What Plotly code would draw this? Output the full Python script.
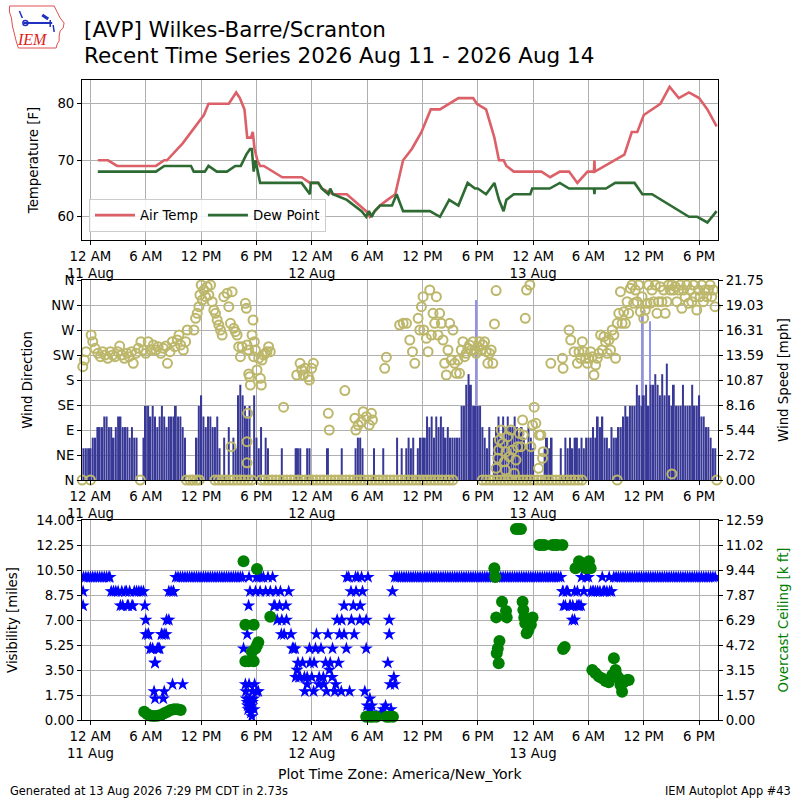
import pandas as pd
import plotly.graph_objects as go

BASE = pd.Timestamp("2026-08-11 00:00")

# ---------------- Temperature panel ----------------
air_hours = [0.8, 1.9, 2.9, 7.1, 8.0, 8.3, 10.0, 10.9, 12.3, 12.8, 15.0, 15.8, 16.2, 16.7, 17.0,
             17.4, 17.6, 17.8, 18.1, 18.4, 18.8, 20.8, 22.9, 23.8, 24.7, 25.1, 26.3, 27.8, 28.5,
             29.9, 30.3, 30.8, 31.4, 32.2, 33.05, 33.9, 34.85, 35.9, 36.9, 37.9, 39.9, 41.5,
             41.9, 42.9, 43.8, 44.3, 44.8, 45.1, 45.9, 48.9, 49.85, 50.9, 51.9, 52.8, 53.9, 54.6,
             54.65, 54.7, 57.9, 58.7, 59.3, 60.0, 61.8, 62.8, 63.8, 64.9, 66.0, 66.9, 67.9]
air_temp = [70, 70, 69, 69, 70, 70, 73, 75, 78, 80, 80, 82, 81, 79, 74,
            74, 75, 72, 70, 69, 69, 67, 67, 66, 66, 65, 64, 64, 63,
            61, 60, 61, 62, 63, 64, 70, 72, 75, 79, 79, 81, 81,
            80, 79, 74, 70, 70, 69, 68, 68, 67, 68, 68, 66, 68, 68,
            70, 68, 71, 75, 75, 78, 80, 83, 81, 82, 81, 79, 76]

dew_hours = [0.8, 7.1, 8.0, 10.9, 11.2, 12.4, 12.8, 13.7, 14.8, 15.7, 16.3, 16.9, 17.3, 17.5,
             17.7, 17.9, 18.4, 22.9, 23.8, 23.9, 24.7, 25.1, 25.8, 26.0, 26.3, 27.8, 29.4, 29.9,
             30.2, 30.5, 30.8, 31.4, 32.7, 33.2, 33.9, 36.8, 37.9, 38.9, 39.9, 40.9, 41.7, 42.0,
             42.9, 43.8, 44.3, 44.8, 45.1, 45.9, 47.7, 47.9, 49.8, 50.9, 51.9, 54.6, 54.65, 54.7,
             55.9, 56.9, 59.0, 59.85, 60.9, 64.9, 65.8, 66.9, 67.9]
dew_temp = [68, 68, 69, 69, 68, 68, 69, 68, 68, 69, 69, 71, 72, 72,
            68, 70, 66, 66, 64, 66, 66, 65, 64, 65, 64, 63, 61, 60,
            61, 60, 61, 62, 62, 64, 61, 61, 60, 63, 62, 66, 65, 65,
            64, 66, 63, 61, 63, 64, 64, 65, 65, 66, 65, 65, 64, 65,
            65, 66, 66, 64, 64, 60, 60, 59, 61]

# ---------------- Wind panel ----------------
# wind speed [knots], 15-minute steps starting 2026-08-10 23:00
wind_start_hour = -1.0
wind_kt = [
    3, 3, 3, 3,  3, 4, 4, 5,  5, 5, 6, 6,  5, 5, 4, 5,  6, 6, 5, 5,  5, 4, 5, 4,
    4, 0, 0, 4,  7, 7, 6, 7,  6, 5, 6, 7,  6, 5, 6, 6,  6, 7, 6, 6,  5, 4, 0, 0,
    0, 0, 4, 7,  8, 6, 5, 6,  6, 5, 5, 6,  3, 0, 4, 0,  5, 0, 4, 3,  8, 9, 8, 7,
    6, 7, 0, 8,  4, 3, 5, 0,  4, 3, 0, 0,  0, 0, 0, 3,  0, 0, 0, 0,  0, 3, 3, 3,
    0, 0, 3, 3,  0, 0, 0, 0,  0, 0, 0, 3,  0, 0, 0, 0,  0, 3, 0, 0,  0, 0, 0, 3,
    4, 4, 3, 0,  0, 0, 0, 3,  0, 0, 0, 3,  0, 0, 0, 0,  0, 4, 0, 3,  0, 3, 4, 3,
    4, 0, 3, 4,  4, 4, 6, 5,  6, 4, 6, 5,  6, 5, 4, 5,  4, 4, 4, 4,  4, 7, 7, 9,
    10, 9, 7, 7,  7, 7, 5, 4,  3, 5, 0, 4,  5, 6, 4, 6,  5, 6, 5, 5,  6, 5, 4, 5,
    4, 3, 5, 4,  3, 0, 0, 0,  0, 3, 4, 3,  4, 0, 0, 0,  3, 0, 4, 3,  4, 3, 4, 4,
    3, 4, 3, 4,  4, 4, 5, 4,  6, 5, 6, 4,  4, 3, 5, 4,  4, 5, 5, 6,  7, 6, 7, 7,
    7, 9, 8, 7,  8, 9, 7, 9,  9, 10, 9, 8,  10, 8, 11, 8,  7, 9, 7, 7,  7, 9, 7, 7,
    7, 9, 7, 7,  8, 6, 6, 5,  5, 4, 3, 3,
]
gust_hours = [41.83, 59.8, 60.7]
gust_kt = [17, 16, 15]

dir_hours = [
    -0.83, -0.65, -0.47, 0.0, 0.07, 0.25, 0.5, 0.8, 1.08, 1.33, 1.58, 1.87, 2.16, 2.41, 2.66,
    2.95, 3.17, 3.38, 3.67, 3.96, 4.2, 4.46, 4.64, 4.93, 5.18, 5.4, 5.47, 5.76, 6.0, 6.26,
    6.55, 6.83, 7.09, 7.34, 7.63, 7.91, 8.17, 8.35, 8.63, 8.88, 9.14, 9.42, 9.6, 9.78,
    10.07, 10.32, 10.5, 11.22, 11.4, 11.58, 11.76, 11.87, 12.01, 12.12, 12.3, 12.48, 12.66,
    12.84, 13.02, 13.2, 13.38, 13.56, 13.74, 13.92, 14.1, 14.28, 14.46, 14.82, 15.0, 15.18,
    15.25, 15.36, 15.54, 15.72, 15.9, 16.08, 16.26, 16.44, 16.8, 16.9, 16.98, 16.98, 16.98,
    17.05, 17.16, 17.16, 17.27, 17.34, 17.52, 17.63, 17.7, 17.77, 17.88, 18.06, 18.24,
    18.42, 18.53, 18.6, 18.78, 18.96, 19.14, 19.32, 19.5,
    20.94, 22.37, 22.73, 22.91, 23.09, 23.27, 23.63, 23.74, 23.99, 24.17, 25.79, 25.9,
    27.59, 28.67, 28.78, 29.03, 29.39, 29.57, 29.93, 30.22, 30.47, 30.58, 31.91, 32.09,
    33.53, 33.91, 34.27, 34.63, 34.92, 35.17, 35.53, 35.71, 35.89, 36.07, 36.14, 36.43,
    36.61, 36.79, 36.97, 37.15, 37.33, 37.51, 37.69, 37.87, 38.05, 38.23, 38.41, 38.59,
    38.77, 38.95, 39.13, 39.31, 39.49, 39.67, 39.85, 40.03, 40.21, 40.39, 40.57, 40.75,
    40.93, 41.11, 41.29, 41.47, 41.65, 41.83, 42.01, 42.19, 42.37, 42.55, 42.73, 42.91,
    43.09, 43.27, 43.45, 43.63, 43.81, 43.99,
    43.99, 44.17, 44.27, 44.35, 44.53, 44.71, 44.88, 44.99, 45.06, 45.24, 45.42, 45.6,
    45.78, 45.96, 46.14, 46.32, 46.5, 46.68, 46.86, 46.94, 47.15, 47.29, 47.65, 47.76,
    47.94, 48.12, 48.3, 48.59, 48.66, 48.84, 49.02, 49.09,
    49.92, 51.18, 51.25, 51.9, 52.08, 52.44, 52.8, 52.98, 53.16, 53.34, 53.52, 53.7, 53.88,
    54.06, 54.24, 54.42, 54.6, 54.78, 54.96, 55.14, 55.32, 55.5, 55.68, 55.86, 56.04, 56.22,
    56.4, 56.58, 56.76, 56.94, 57.12, 57.29, 57.47, 57.65, 57.83, 58.01, 58.19, 58.37,
    58.55, 58.73, 58.91, 59.09, 59.27, 59.45, 59.63, 59.81, 59.99, 60.17, 60.35, 60.53,
    60.71, 60.89, 61.07, 61.25, 61.43, 61.61, 61.79, 61.97, 62.15, 62.33, 62.51, 62.69,
    62.87, 63.05, 63.23, 63.41, 63.59, 63.77, 63.95, 64.13, 64.31, 64.49, 64.67, 64.85,
    65.03, 65.21, 65.39, 65.57, 65.75, 65.93, 66.11, 66.29, 66.47, 66.65, 66.83, 67.01,
    67.19, 67.37, 67.55, 67.73, 63.05,
]
dir_deg = [
    204, 216, 231, 0, 261, 249, 237, 228, 222, 231, 225, 219, 231, 225, 222,
    231, 241, 225, 219, 228, 222, 231, 210, 228, 237, 0, 249, 234, 228, 249,
    234, 243, 234, 240, 228, 237, 241, 210, 231, 249, 240, 252, 261, 243,
    234, 249, 270, 270, 291, 300, 312, 333, 351, 324, 342, 330, 348,
    333, 351, 321, 306, 300, 288, 279, 270, 261, 330, 336, 312, 282,
    60, 339, 273, 267, 261, 240, 222, 240, 318, 309, 243, 69, 31,
    120, 234, 191, 186, 171, 261, 288, 222, 249, 234, 198, 219,
    183, 171, 216, 225, 228, 231, 240, 231,
    131, 189, 210, 198, 189, 201, 186, 180, 201, 210, 120, 90,
    161, 111, 90, 99, 105, 123, 114, 99, 120, 108, 201, 221,
    279, 282, 282, 252, 231, 210, 291, 270, 312, 330, 270, 255,
    231, 342, 261, 300, 282, 330, 261, 300, 282, 252, 210, 189,
    234, 282, 216, 270, 210, 192, 216, 192, 234, 249, 222, 228,
    237, 243, 234, 249, 234, 228, 240, 249, 234, 243, 249, 231,
    210, 228, 234, 210, 281, 341,
    21, 39, 54, 72, 90, 66, 33, 18, 51, 78, 42, 90,
    54, 12, 36, 60, 84, 60, 108, 81, 291, 342, 351, 60,
    99, 131, 102, 21, 81, 81, 39, 51,
    210, 219, 201, 270, 252, 231, 210, 231, 219, 249, 231, 219, 210,
    219, 231, 222, 189, 207, 219, 228, 261, 234, 258, 249, 228, 252,
    234, 270, 261, 219, 282, 300, 339, 282, 303, 282, 321, 300,
    345, 351, 318, 342, 321, 351, 303, 330, 291, 306, 318, 351,
    318, 342, 321, 351, 300, 321, 348, 321, 342, 300, 321, 351,
    342, 351, 342, 348, 321, 342, 351, 309, 342, 330, 351, 318,
    342, 321, 351, 330, 306, 342, 330, 351, 321, 342, 330, 342,
    351, 330, 342, 312, 11,
]
# calm (0 degree) reports
calm_hours = [
    -0.9, 10.4, 10.8, 11.1, 11.5, 11.8, 13.5, 13.9, 14.3, 14.7, 15.1, 15.5, 15.9, 16.3, 16.7,
    17.1, 17.5, 18.5, 18.9, 19.3, 19.7, 20.1, 20.5, 20.9, 21.3, 21.7, 22.1, 22.5, 22.9,
    23.3, 23.7, 24.1, 24.5, 24.9, 25.3, 25.7, 26.1, 26.5, 26.9, 27.3, 27.7, 28.1, 28.5,
    28.9, 29.3, 29.7, 30.1, 30.5, 30.9, 31.3, 31.7, 32.1, 32.5, 32.9, 33.3, 33.7, 34.1,
    34.5, 34.9, 35.3, 35.7, 36.1, 36.5, 36.9, 37.3, 37.7, 38.1, 38.5, 38.9, 39.3,
    42.5, 42.9, 43.3, 43.7, 44.1, 44.5, 44.9, 45.3, 45.7, 46.1, 46.5, 46.9, 47.3, 47.7,
    48.1, 48.5, 48.9, 49.3, 49.7, 50.1, 50.5, 50.9, 51.3, 51.7, 52.1, 52.5, 52.9, 53.3,
    57.12, 67.91,
]

# ---------------- Visibility / ceiling panel ----------------
# visibility [miles], 15-minute steps starting 2026-08-10 23:00
vis_start_hour = -1.0
vis_mi = [
    None, 10, 10, 10,  10, 10, 10, 10,  10, 10, 10, 10,  10, 9, 9, 9,  9, 8, 8, 9,  8, 9, 8, 9,
    9, 9, 9, 9,  6, 6, 5, 5,  4, 5, 5, 6,  6, 7, 7, 9,  9, 10, 10, 10,  10, 10, 10, 10,
    10, 10, 10, 10,  10, 10, 10, 10,  10, 10, 10, 10,  10, 10, 10, 10,  10, 10, 10, 10,
    10, 10, 10, None,  None, None, None, None,  10, 10, 10, 10,  9, 10, 9, 10,  8, 7, 8, 7,
    6, 7, 9, 6,  5, 3, 4, 3,  4, 2, 3, 5,  3, 4, 6, 2.5,  5, 3, 4, 6,  4, 5, 2, 7,
    6, 7, 8, 5,  10, 9, 8, 10,  10, 8, 9, 2,  1, 0.75, 0.5, 0.25,  0.25, None, 0.5, 0.75,
    1, 4, 2.5, 9,
    10, 10, 10, 10,  10, 10, 10, 10,  10, 10, 10, 10,  10, 10, 10, 10,  10, 10, 10, 10,
    10, 10, 10, 10,  10, 10, 10, 10,  10, 10, 10, 10,  10, 10, 10, 10,  10, 10, 10, 10,
    10, 10, 10, 10,  10, 10, 10, 10,  10, 10, 10, 10,  10, 10, 10, 10,  10, 10, 10, 10,
    10, 10, 10, 10,  10, 10, 10, 10,  10, 10, 10, 10,
    10, 9, 8, 9,  8, 7, 9, 8,  8, 10, 9, 10,  10, 9, 9, 9,  9, 9, 10, 9,  9, 10, 9, 10,
    10, 10, 10, 10,  10, 10, 10, 10,  10, 10, 10, 10,  10, 10, 10, 10,  10, 10, 10, 10,
    10, 10, 10, 10,  10, 10, 10, 10,  10, 10, 10, 10,  10, 10, 10, 10,  10, 10, 10, 10,
    10, 10, 10, 10,
]
vis_extra_hours = [
    -0.8, -0.8, 2.1, 3.4, 3.9, 4.1, 4.6, 5.9, 6.0, 6.3, 6.5, 6.9, 7.0, 7.0, 7.4, 7.7, 7.9,
    8.0, 8.2, 8.5, 8.9, 9.0, 10.0, 16.6, 16.8, 16.85, 16.9, 17.0, 17.0, 17.05, 17.1, 17.15,
    17.2, 17.2, 17.3, 17.3, 17.4, 17.45, 17.5, 17.55, 17.6, 17.7, 17.75, 17.8, 17.9, 18.0,
    18.2, 18.4, 19.9, 20.1, 20.6, 20.7, 21.2, 21.9, 22.2, 22.4, 22.6, 23.2, 23.5, 23.8,
    24.2, 24.4, 24.8, 25.3, 25.6, 25.9, 26.2, 26.6, 26.9, 27.2, 27.5, 27.8, 28.1, 28.3,
    28.6, 28.8, 29.2, 29.4, 29.9, 29.9, 30.1, 30.3, 30.5, 32.4, 32.4, 32.6, 32.9, 33.0,
    51.2, 51.3, 51.6, 52.0, 52.3, 52.5, 52.8, 53.2, 52.9, 54.5, 55.6, 56.3,
]
vis_extra_mi = [
    9, 8, 10, 9, 9, 8, 8, 8, 7, 6, 5, 2, 1.5, 4, 5, 6, 1.5,
    2, 6, 9, 2.5, 9, 2.5, 5, 2.5, 2, 1.5, 6, 1.25, 1, 0.75, 8,
    10, 2.5, 9, 1.5, 0.5, 1, 0.25, 1.25, 2, 1.5, 0.75, 2.5, 9, 2,
    2, 9, 8, 9, 9, 6, 8, 5, 5, 3.5, 3, 3, 2.5, 4,
    2, 5, 3, 2.5, 2, 3.5, 3, 2.5, 4, 2, 6, 10, 2, 7,
    6, 9, 7, 10, 7, 5, 10, 1.5, 1, 6, 7, 0.75, 3, 2.5,
    9, 8, 9, 8, 8, 7, 9, 8, 8, 9, 9, 9,
]

ceil_hours = [
    5.83, 6.19, 6.55, 6.9, 7.27, 7.63, 7.99, 8.35, 8.7, 9.06, 9.42, 9.78,
    16.6, 16.8, 17.7, 18.06, 16.8, 17.16, 17.7, 17.5, 17.9, 18.06, 18.2, 19.5,
    29.9, 30.3, 30.6, 31.0, 32.1, 32.4, 32.8,
    43.8, 43.9, 44.0, 44.06, 44.17, 44.35, 44.27, 44.63, 45.06, 45.14,
    46.14, 46.4, 46.68, 46.86, 46.94, 47.04, 47.15, 47.3, 47.5, 47.76, 47.94,
    48.66, 48.9, 49.2, 50.1, 50.4, 50.64, 51.18, 51.25, 51.43,
    52.6, 52.98, 53.34, 53.7, 54.06, 54.24,
    54.42, 54.78, 55.14, 55.5, 55.86, 56.2, 56.58, 56.76, 56.94, 57.1, 57.3, 57.47, 57.65,
    57.83, 58.2, 58.37,
]
ceil_kft = [
    0.52, 0.36, 0.27, 0.25, 0.27, 0.31, 0.42, 0.52, 0.63, 0.67, 0.67, 0.63,
    10.0, 6.0, 6.0, 9.5, 3.7, 3.7, 3.7, 4.3, 4.5, 4.7, 4.9, 6.5,
    0.2, 0.2, 0.2, 0.2, 0.2, 0.2, 0.2,
    9.55, 9.0, 6.46, 4.2, 4.5, 4.97, 3.57, 7.45, 6.86, 6.46,
    12.02, 12.02, 12.02, 7.45, 6.92, 6.46, 6.09, 5.46, 5.67, 6.0, 6.46,
    11.02, 11.02, 11.02, 11.02, 11.02, 11.02, 11.02, 4.47, 4.6,
    9.55, 10.0, 9.86, 9.55, 10.0, 9.55,
    3.15, 2.94, 2.73, 2.62, 2.45, 2.37, 2.83, 3.88, 3.15, 2.79, 2.62, 2.2, 1.78,
    2.37, 2.52, 2.52,
]

tick_text = ["12 AM<br>11 Aug", "6 AM", "12 PM", "6 PM",
             "12 AM<br>12 Aug", "6 AM", "12 PM", "6 PM",
             "12 AM<br>13 Aug", "6 AM", "12 PM", "6 PM"]
dir_labels = ["N", "NE", "E", "SE", "S", "SW", "W", "NW", "N"]
speed_labels = ["0.00", "2.72", "5.44", "8.16", "10.87", "13.59", "16.31", "19.03", "21.75"]
vis_labels = ["0.00", "1.75", "3.50", "5.25", "7.00", "8.75", "10.50", "12.25", "14.00"]
ceil_labels = ["0.00", "1.57", "3.15", "4.72", "6.29", "7.87", "9.44", "11.02", "12.59"]

KT2MPH = 1.15078


def to_time(hours):
    return [BASE + pd.Timedelta(hours=h) for h in hours]


def grid_times(start, n):
    return [BASE + pd.Timedelta(minutes=int(round(start * 60)) + 15 * i) for i in range(n)]


FONT = "DejaVu Sans"
GRID = "#b0b0b0"

fig = go.Figure()

# temperature
fig.add_trace(go.Scatter(x=to_time(air_hours), y=air_temp, mode="lines", name="Air Temp",
                         line=dict(color="#dc6068", width=2.6), xaxis="x", yaxis="y"))
fig.add_trace(go.Scatter(x=to_time(dew_hours), y=dew_temp, mode="lines", name="Dew Point",
                         line=dict(color="#2e6b32", width=2.6), xaxis="x", yaxis="y"))

# wind
fig.add_trace(go.Bar(x=to_time(gust_hours), y=[g * KT2MPH for g in gust_kt], width=5 * 60 * 1000,
                     marker=dict(color="#8f8ff5", line=dict(width=0)), showlegend=False,
                     xaxis="x2", yaxis="y2"))
fig.add_trace(go.Bar(x=grid_times(wind_start_hour, len(wind_kt)), y=[w * KT2MPH for w in wind_kt],
                     width=13 * 60 * 1000, marker=dict(color="#383896", line=dict(width=0)),
                     showlegend=False, xaxis="x2", yaxis="y2"))
circ = dict(symbol="circle-open", size=9, color="#bdb76b", line=dict(width=2, color="#bdb76b"))
fig.add_trace(go.Scatter(x=to_time(calm_hours), y=[0] * len(calm_hours), mode="markers",
                         marker=circ, showlegend=False, xaxis="x2", yaxis="y4", cliponaxis=False))
fig.add_trace(go.Scatter(x=to_time(dir_hours), y=dir_deg, mode="markers",
                         marker=circ, showlegend=False, xaxis="x2", yaxis="y4", cliponaxis=False))

# visibility and ceiling
star = dict(symbol="star", size=10, color="#0000ff", line=dict(width=0))
fig.add_trace(go.Scatter(x=grid_times(vis_start_hour, len(vis_mi)), y=vis_mi, mode="markers",
                         marker=star, showlegend=False, xaxis="x3", yaxis="y3"))
fig.add_trace(go.Scatter(x=to_time(vis_extra_hours), y=vis_extra_mi, mode="markers",
                         marker=star, showlegend=False, xaxis="x3", yaxis="y3"))
fig.add_trace(go.Scatter(x=to_time(ceil_hours), y=ceil_kft, mode="markers",
                         marker=dict(symbol="circle", size=12, color="#008000"),
                         showlegend=False, xaxis="x3", yaxis="y5", cliponaxis=False))

xr = ["2026-08-10 23:05", "2026-08-13 20:03"]
tick_vals = [BASE + pd.Timedelta(hours=6 * k) for k in range(len(tick_text))]
xcommon = dict(type="date", range=xr, tickvals=tick_vals, ticktext=tick_text, showgrid=True,
               gridcolor=GRID, gridwidth=1, showline=True, linecolor="black", linewidth=1,
               mirror=True, ticks="outside", ticklen=4, tickcolor="black",
               tickfont=dict(size=13.3, color="black"), zeroline=False)
ycommon = dict(showline=True, linecolor="black", linewidth=1, ticks="outside", ticklen=4,
               tickcolor="black", tickfont=dict(size=13.3, color="black"), zeroline=False)

fig.update_layout(
    width=800, height=800,
    margin=dict(l=80, r=80, t=80, b=80),
    paper_bgcolor="white", plot_bgcolor="white",
    font=dict(family=FONT, size=13, color="black"),
    barmode="overlay",
    xaxis=dict(**xcommon, anchor="y", domain=[0, 1]),
    xaxis2=dict(**xcommon, anchor="y2", domain=[0, 1], matches="x"),
    xaxis3=dict(**xcommon, anchor="y3", domain=[0, 1], matches="x"),
    yaxis=dict(**ycommon, domain=[0.75, 1], range=[55.9, 84.2], tickvals=[60, 70, 80],
               showgrid=True, gridcolor=GRID, mirror=True,
               title=dict(text="Temperature [F]", font=dict(size=13.3))),
    yaxis2=dict(**ycommon, domain=[0.375, 0.6875], range=[0, 21.75], side="right",
                tickvals=[21.75 * k / 8 for k in range(9)], ticktext=speed_labels,
                showgrid=True, gridcolor=GRID, mirror=True, anchor="x2",
                title=dict(text="Wind Speed [mph]", font=dict(size=13.3))),
    yaxis4=dict(**ycommon, overlaying="y2", side="left", range=[0, 360], anchor="x2",
                tickvals=[45 * k for k in range(9)], ticktext=dir_labels, showgrid=False,
                title=dict(text="Wind Direction", font=dict(size=13.3))),
    yaxis3=dict(**ycommon, domain=[0, 0.3125], range=[0, 14], anchor="x3",
                tickvals=[1.75 * k for k in range(9)], ticktext=vis_labels,
                showgrid=True, gridcolor=GRID, mirror=True,
                title=dict(text="Visibility [miles]", font=dict(size=13.3))),
    yaxis5=dict(**ycommon, overlaying="y3", side="right", range=[0, 12.59], anchor="x3",
                tickvals=[12.59 * k / 8 for k in range(9)], ticktext=ceil_labels, showgrid=False,
                title=dict(text="Overcast Ceiling [k ft]", font=dict(size=13.3, color="#008000"))),
    legend=dict(x=0.011, y=0.7625, xanchor="left", yanchor="bottom", orientation="h",
                bgcolor="rgba(255,255,255,0.85)", bordercolor="#cccccc", borderwidth=1,
                font=dict(size=13.3), itemwidth=40),
)


def px(x):
    return (x - 80) / 640.0


def py(y):
    return (720 - y) / 640.0


ann = [
    dict(text="[AVP] Wilkes-Barre/Scranton", x=px(80), y=py(29), size=21.5, anchor="left"),
    dict(text="Recent Time Series 2026 Aug 11 - 2026 Aug 14", x=px(80), y=py(55), size=21.5, anchor="left"),
    dict(text="Plot Time Zone: America/New_York", x=px(400), y=py(774), size=14, anchor="center"),
    dict(text="Generated at 13 Aug 2026 7:29 PM CDT in 2.73s", x=px(6), y=py(791), size=11.4, anchor="left"),
    dict(text="IEM Autoplot App #43", x=px(795), y=py(791), size=11.4, anchor="right"),
]
for a in ann:
    fig.add_annotation(text=a["text"], x=a["x"], y=a["y"], xref="paper", yref="paper",
                       xanchor=a["anchor"], yanchor="middle", showarrow=False,
                       font=dict(size=a["size"], color="black", family=FONT))

# IEM logo (decorative)
iowa = [(7, 6), (52, 6), (54, 10), (56, 14), (58, 18), (62, 23), (61, 28), (58, 31), (57, 36),
        (57, 41), (55, 44), (54, 48), (16, 48), (14, 42), (12, 34), (10, 26), (9, 18), (7, 12)]
path = "M " + " L ".join(f"{px(a):.5f},{py(b):.5f}" for a, b in iowa) + " Z"
fig.add_shape(type="path", path=path, xref="paper", yref="paper",
              line=dict(color="#e05050", width=1), fillcolor="rgba(0,0,0,0)")
for (x0, y0, x1, y1, w) in [(21, 23, 50, 23, 2), (40, 15, 46, 19, 3), (17, 11, 20, 18, 1.5),
                            (51, 25, 52, 32, 1.5), (48, 20, 48, 27, 1.5)]:
    fig.add_shape(type="line", x0=px(x0), y0=py(y0), x1=px(x1), y1=py(y1), xref="paper",
                  yref="paper", line=dict(color="#2030c0", width=w))
fig.add_shape(type="circle", x0=px(20.5), y0=py(20.5), x1=px(25.5), y1=py(25.5), xref="paper",
              yref="paper", line=dict(color="#2030c0", width=1.5))
fig.add_annotation(text="<i>IEM</i>", x=px(30), y=py(39), xref="paper", yref="paper",
                   showarrow=False, xanchor="center", yanchor="middle",
                   font=dict(size=16, color="#e02020", family="Liberation Serif"))

fig.write_html("out.html", config={"displayModeBar": False},
               post_script="document.body.style.margin='0px';document.body.style.overflow='hidden';")
